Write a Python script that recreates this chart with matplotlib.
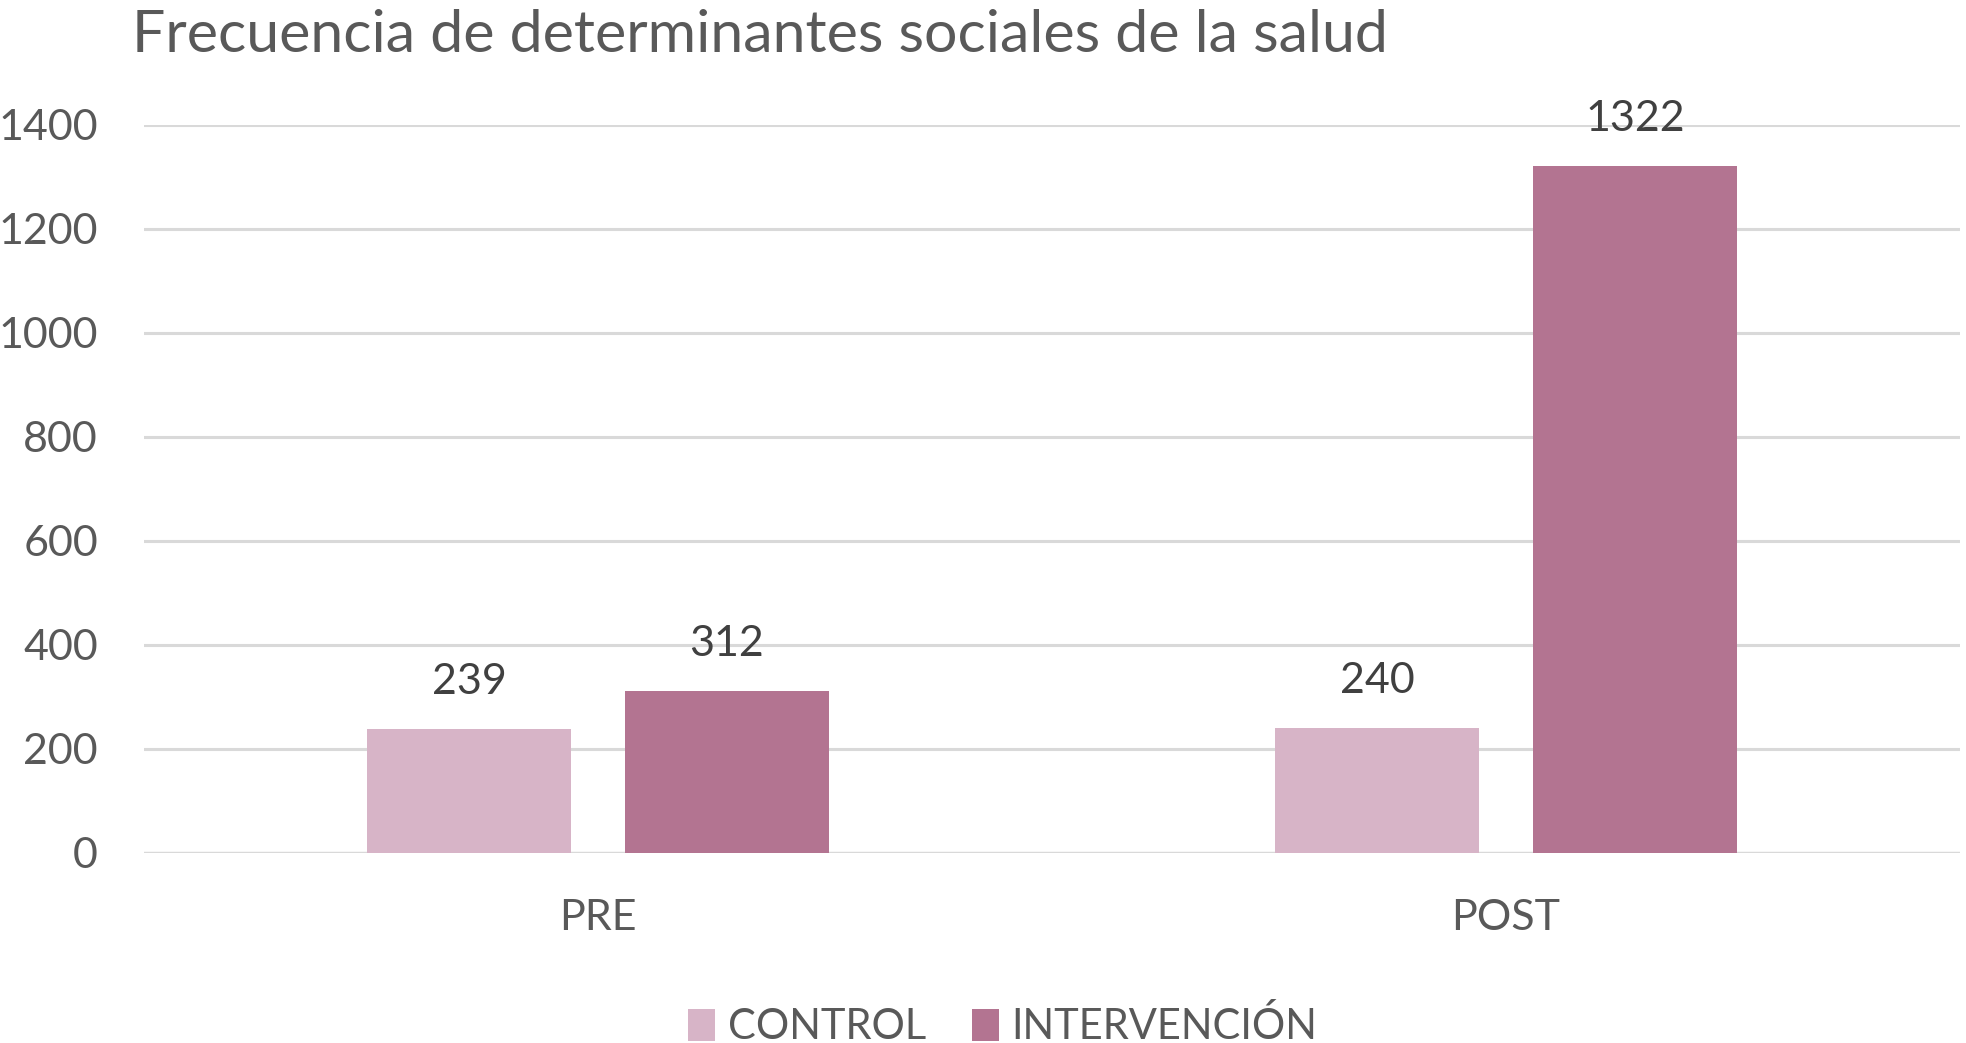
import matplotlib.pyplot as plt
import numpy as np

plt.rcParams['font.family'] = ['Lato', 'DejaVu Sans']

# Data
categories = ["PRE", "POST"]
series_names = ["CONTROL", "INTERVENCIÓN"]
control = [239, 240]
intervencion = [312, 1322]
yticks = [0, 200, 400, 600, 800, 1000, 1200, 1400]

col_control = "#D7B4C7"
col_interv = "#B37491"
grid_col = "#D9D9D9"
text_col = "#595959"

fig = plt.figure(figsize=(19.66, 10.43), dpi=100)
ax = fig.add_axes([0.0732, 0.1822, 0.9238, 0.698])

x = np.arange(len(categories))
w = 0.224
off = 0.142

b1 = ax.bar(x - off, control, w, color=col_control, label=series_names[0], zorder=3)
b2 = ax.bar(x + off, intervencion, w, color=col_interv, label=series_names[1], zorder=3)

for bars in (b1, b2):
    ax.bar_label(bars, padding=20, fontsize=31, color="#404040")

ax.set_xlim(-0.5, 1.5)
ax.set_ylim(0, 1400)
ax.set_yticks(yticks)
ax.set_xticks(x)
ax.set_xticklabels(categories)
ax.tick_params(axis='y', length=0, pad=33, labelsize=31, labelcolor=text_col)
ax.tick_params(axis='x', length=0, pad=33, labelsize=31, labelcolor=text_col)

ax.yaxis.grid(True, color=grid_col, linewidth=2.2, zorder=0)
for s in ax.spines.values():
    s.set_visible(False)
ax.axhline(0, color=grid_col, linewidth=2.4, zorder=2)

fig.text(0.0671, 1 - 52 / 1043, "Frecuencia de determinantes sociales de la salud",
         fontsize=42.5, color=text_col, va='baseline', ha='left')

fig.legend(loc='center', bbox_to_anchor=(0.51, 0.016), ncol=2, frameon=False,
           fontsize=30, labelcolor=text_col, handlelength=0.65, handleheight=0.8,
           handletextpad=0.3, columnspacing=1.1)

fig.savefig("out.png", dpi=100)
